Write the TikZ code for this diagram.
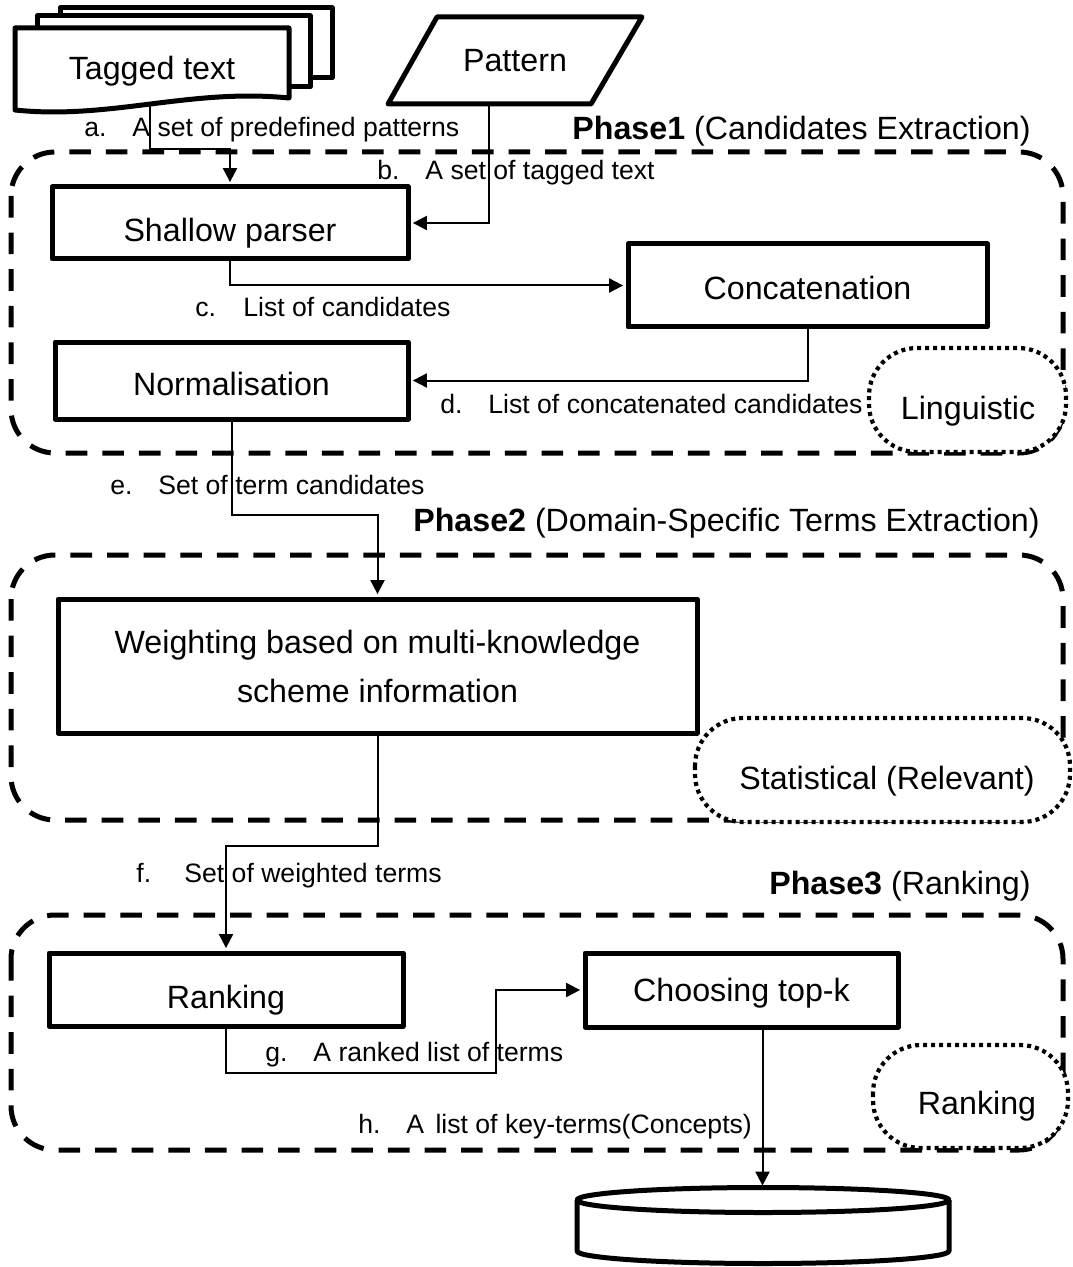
\documentclass[tikz,border=0pt]{standalone}
\usepackage{fontspec}
\setmainfont{Liberation Sans}
\usetikzlibrary{arrows.meta,calc}
\newcommand\mainsz{\fontsize{16.1}{24.5}\selectfont}
\newcommand\lblsz{\fontsize{13.3}{16}\selectfont}
\newcommand\enumlbl[2]{\makebox[24pt][l]{#1}#2}
\begin{document}
\begin{tikzpicture}[x=0.5pt,y=-0.5pt,
  procbox/.style={draw,line width=2.5pt,fill=white,inner sep=0pt,font=\mainsz,line join=round},
  textdrop/.style={text height=#1,text depth=0pt},
  sheet/.style={draw,line width=2.5pt,fill=white,line join=round},
  phasebox/.style={line width=2.5pt,dash pattern=on 10.8pt off 7.5pt,rounded corners=22pt},
  layerbox/.style={line width=2.1pt,dash pattern=on 2pt off 2pt,fill=white,rounded corners=24pt},
  conn/.style={line width=1pt,-{Triangle[length=7pt,width=7pt]},shorten >=1.2pt},
  edgelbl/.style={anchor=base west,inner sep=0pt,font=\lblsz},
  phaselbl/.style={anchor=base east,inner sep=0pt,font=\mainsz},
  plain/.style={font=\mainsz,inner sep=0pt}]
\fill[white] (0,0) rectangle (1072,1267);
\useasboundingbox (0,0) rectangle (1072,1267);

% phase containers
\draw[phasebox] (11,152) rectangle (1063,453);
\draw[phasebox] (11,555) rectangle (1063,820);
\draw[phasebox] (11,915) rectangle (1063,1150);

% layer tags
\draw[layerbox] (869,348) rectangle (1066,452);
\node[plain] (lng) at (968,411) {Linguistic};
\draw[layerbox] (695,718) rectangle (1070,822);
\node[plain] (sta) at (887,781) {Statistical (Relevant)};
\draw[layerbox] (873,1045) rectangle (1068,1148);
\node[plain] (rkl) at (977,1106) {Ranking};

% phase titles
\node[phaselbl] (p1) at (1031,140) {\textbf{Phase1} (Candidates Extraction)};
\node[phaselbl] (p2) at (1040,531) {\textbf{Phase2} (Domain-Specific Terms Extraction)};
\node[phaselbl] (p3) at (1031,894) {\textbf{Phase3} (Ranking)};

% tagged text document stack
\draw[sheet] (60,8) rectangle (332,78);
\draw[sheet] (37,16) rectangle (310,87);
\draw[sheet] (15,28) -- (289,28) -- (289,98) .. controls (190,88) and (110,120) .. (15,110) -- cycle;
\node[plain] (tt) at (152,71) {Tagged text};
\coordinate (ttout) at (150,104);

% pattern input
\draw[sheet] (437,17) -- (642,17) -- (591,104) -- (388,104) -- cycle;
\node[plain,minimum height=43.5pt] (pat) at (515,60.5) {Pattern};

% process steps
\node[procbox,textdrop=18.5pt,minimum width=178pt,minimum height=36pt] (sp) at (230,223) {Shallow parser};
\node[procbox,textdrop=14pt,minimum width=179.5pt,minimum height=41.5pt] (cat) at (807.5,285.5) {Concatenation};
\node[procbox,textdrop=15pt,minimum width=176.5pt,minimum height=38.5pt] (norm) at (231.5,380.5) {Normalisation};
\node[procbox,minimum width=319.5pt,minimum height=67pt,align=center] (wt) at (377.5,666) {Weighting based on multi-knowledge\\scheme information};
\node[procbox,textdrop=19pt,minimum width=177pt,minimum height=36.5pt] (rk) at (226,989.5) {Ranking};
\node[procbox,textdrop=11.5pt,minimum width=156.5pt,minimum height=37pt] (ch) at (741.5,990) {Choosing top-k};

% output store
\draw[sheet] (577,1200) -- (577,1251) arc[start angle=180,end angle=360,x radius=93pt,y radius=6.25pt] -- (949,1200);
\draw[sheet] (763,1200) ellipse[x radius=93pt,y radius=6.25pt];
\coordinate (cyltop) at (762.5,1188);

% flow
\draw[conn] (ttout) -- ++(0,45) -| (sp.north);
\draw[conn] ([xshift=-13pt]pat.south) |- (sp.east);
\draw[conn] (sp.south) |- (cat.west);
\draw[conn] (cat.south) |- (norm.east);
\draw[conn] (norm.south) -- ++(0,93) -| (wt.north);
\draw[conn] (wt.south) -- ++(0,110) -| (rk.north);
\coordinate (g1) at (496,1073);
\draw[conn] (rk.south) |- (g1) |- (ch.west);
\draw[conn] (ch.south -| cyltop) -- (cyltop);

% flow labels
\node[edgelbl] (la) at (84,137) {\enumlbl{a.}{A set of predefined patterns}};
\node[edgelbl] (lb) at (377,180) {\enumlbl{b.}{A set of tagged text}};
\node[edgelbl] (lc) at (195,316) {\enumlbl{c.}{List of candidates}};
\node[edgelbl] (ld) at (440,413) {\enumlbl{d.}{List of concatenated candidates}};
\node[edgelbl] (le) at (110,494) {\enumlbl{e.}{Set of term candidates}};
\node[edgelbl] (lf) at (136,882) {\enumlbl{f.}{Set of weighted terms}};
\node[edgelbl] (lg) at (265,1061) {\enumlbl{g.}{A ranked list of terms}};
\node[edgelbl] (lh) at (358,1133) {\enumlbl{h.}{A\hspace{2pt} list of key-terms(Concepts)}};
\end{tikzpicture}
\end{document}
